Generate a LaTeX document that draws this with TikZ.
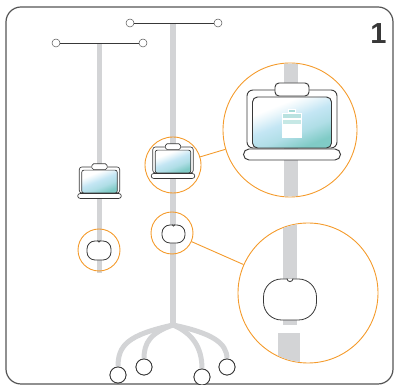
\documentclass[tikz,border=0pt]{standalone}
\usepackage{fontspec}
\setmainfont{Liberation Sans}
\usetikzlibrary{positioning, calc}

\definecolor{polegray}{HTML}{D3D4D6}
\definecolor{inkgray}{HTML}{383838}
\definecolor{framegray}{HTML}{555555}
\definecolor{lensorange}{HTML}{F49B2C}
\definecolor{scrblue}{HTML}{C4E6F4}
\definecolor{scrteal}{HTML}{80CBC6}

\pgfdeclareverticalshading{screenglow}{100bp}{
    color(0bp)=(scrteal); color(27bp)=(scrteal);
    color(40bp)=(scrblue!70!scrteal); color(52bp)=(scrblue);
    color(62bp)=(scrblue!35!white); color(68bp)=(white); color(100bp)=(white)}

\newcommand\lapscale{1}
\tikzset{
    pole/.style={
        draw=polegray,
        line width=#1,
    },
    pole/.default=6pt,
    bar/.style={
        draw=inkgray,
        line width=0.9pt,
    },
    hook/.style={
        circle,
        draw=framegray,
        fill=white,
        line width=0.5pt,
        minimum size=8pt,
        inner sep=0pt,
    },
    wheel/.style={
        circle,
        draw=inkgray,
        fill=white,
        line width=0.8pt,
        minimum size=16pt,
        inner sep=0pt,
    },
    lens/.style={
        circle,
        draw=lensorange,
        line width=0.9pt,
        inner sep=0pt,
    },
    zoomline/.style={
        draw=lensorange,
        line width=0.9pt,
    },
    clipbox/.style={
        draw=inkgray,
        fill=white,
        line width=0.8pt,
        inner sep=0pt,
    },
    lapsize/.code={\renewcommand\lapscale{#1}},
    lapline/.style={
        draw=inkgray,
        line width=0.45pt+0.5pt*\lapscale,
    },
    laptop/.pic={
        % lid, camera tab, screen and base bar
        \path[lapline, fill=white, rounded corners=\lapscale*6pt] (-45,-29) rectangle (45,29);
        \path[lapline, fill=white, rounded corners=\lapscale*4pt] (-17,23) rectangle (17,36);
        \shadedraw[lapline, shading=screenglow, shading angle=22,
            rounded corners=\lapscale*5pt] (-39.5,-29) rectangle (39.5,22);
        \path[lapline, fill=white, rounded corners=\lapscale*5.5pt] (-48.5,-41) rectangle (48.5,-30);
    },
}

\begin{document}
\begin{tikzpicture}[x=1pt,y=1pt]
      \useasboundingbox (0,0) rectangle (394,385);
      \draw[framegray, line width=1.2pt, rounded corners=15pt] (6,1) rectangle (393,378);

      % two stands
      \coordinate (poleL-top) at (99,342);
      \coordinate (poleL-end) at (99,112);
      \coordinate (poleR-top) at (173,362);
      \coordinate (base) at (173,60);
      \draw[pole=5pt] (poleL-top) -- (poleL-end);
      \draw[pole] (poleR-top) -- (base);

      \node [hook] (hookL1) at (56,342) {};
      \node [hook] (hookL2) at (143,342) {};
      \node [hook] (hookR1) at (130,362) {};
      \node [hook] (hookR2) at (218,362) {};
      \draw[bar] (hookL1) -- (hookL2);
      \draw[bar] (hookR1) -- (hookR2);

      % legs and wheels
      \node [wheel] (wheelA) at (118,10) {};
      \node [wheel] (wheelB) at (144,18) {};
      \node [wheel] (wheelC) at (202,8) {};
      \node [wheel] (wheelD) at (227,18) {};
      \draw[pole=5pt] (base) .. controls (128,50) and (118,40) .. (wheelA.north);
      \draw[pole=5pt] (base) .. controls (150,52) and (144,42) .. (wheelB.north);
      \draw[pole=5pt] (base) .. controls (192,52) and (202,38) .. (wheelC.north);
      \draw[pole=5pt] (base) .. controls (212,52) and (227,42) .. (wheelD.north);
      \node [wheel] at (wheelA) {};
      \node [wheel] at (wheelB) {};
      \node [wheel] at (wheelC) {};
      \node [wheel] at (wheelD) {};

      % laptops on the poles
      \pic[scale=0.45, lapsize=0.45] (lapL) at (99.5,205) {laptop};
      \pic[scale=0.45, lapsize=0.45] (lapR) at (173,225) {laptop};

      % clamps
      \node [clipbox, minimum width=24pt, minimum height=19pt, rounded corners=8pt] (clipL) at (99,134.5) {};
      \node [clipbox, minimum width=23pt, minimum height=18pt, rounded corners=8pt] (clipR) at (173.5,151) {};
      \draw[inkgray, line width=0.6pt] ($(clipL.north)+(-1.5,0)$) arc (180:360:1.5);
      \draw[inkgray, line width=0.6pt] ($(clipR.north)+(-1.5,0)$) arc (180:360:1.5);

      \node [lens, minimum size=42pt] (lensL) at (99,135) {};
      \node [lens, minimum size=56pt] (lensM) at (173,220) {};
      \node [lens, minimum size=42pt] (lensC) at (172,152) {};

      % close-up of the laptop
      \node [lens, minimum size=134pt] (bigM) at (290,255) {};
      \draw[zoomline] (lensM) -- (bigM);
      \begin{scope}
        \clip (290,255) circle (66.5);
        \fill[polegray] (284,180) rectangle (298,330);
      \end{scope}
      \pic (lapBig) at (292,266) {laptop};
      \draw[white, line width=0.8pt, fill=scrteal!70] (288,273) rectangle (295,275.5);
      \draw[white, line width=0.8pt, fill=scrteal!55] (282,266.5) rectangle (301,271.5);
      \draw[white, line width=0.8pt, fill=scrteal!45] (282,260.5) rectangle (301,265.5);
      \draw[white, line width=0.8pt, fill=white] (282,254) rectangle (301,259.5);
      \draw[white, line width=0.8pt, fill=white] (282,247.5) rectangle (301,253);

      % close-up of the clamp
      \node [lens, minimum size=140pt] (bigC) at (308,92) {};
      \draw[zoomline] (lensC) -- (bigC);
      \begin{scope}
        \clip (308,92) circle (69.5);
        \fill[polegray] (283,60) rectangle (297,170);
        \fill[polegray] (278,10) rectangle (300,52);
      \end{scope}
      \node [clipbox, minimum width=53pt, minimum height=41pt, rounded corners=18pt] (clipBig) at (290,85.5) {};
      \draw[inkgray, line width=0.8pt, fill=white] ($(clipBig.north)+(-3,0)$) arc (180:360:3);

      \node [font=\fontsize{29}{29}\selectfont\bfseries, text=inkgray] (stepno) at (378.5,351.5) {1};
\end{tikzpicture}
\end{document}
